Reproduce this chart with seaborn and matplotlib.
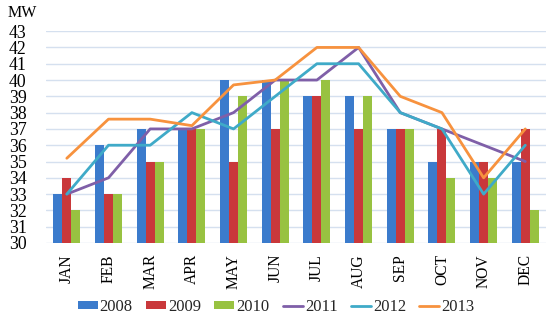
import matplotlib
matplotlib.use("Agg")
import matplotlib.pyplot as plt
import seaborn as sns
import pandas as pd
from matplotlib.lines import Line2D
from matplotlib.patches import Patch

months = ["JAN", "FEB", "MAR", "APR", "MAY", "JUN", "JUL", "AUG", "SEP", "OCT", "NOV", "DEC"]
bar_years = ["2008", "2009", "2010"]
line_years = ["2011", "2012", "2013"]

v2008 = [33, 36, 37, 37, 40, 40, 39, 39, 37, 35, 35, 35]
v2009 = [34, 33, 35, 37, 35, 37, 39, 37, 37, 37, 35, 37]
v2010 = [32, 33, 35, 37, 39, 40, 40, 39, 37, 34, 34, 32]
v2011 = [33, 34, 37, 37, 38, 40, 40, 42, 38, 37, 36, 35]
v2012 = [33, 36, 36, 38, 37, 39, 41, 41, 38, 37, 33, 36]
v2013 = [35.2, 37.6, 37.6, 37.2, 39.7, 40, 42, 42, 39, 38, 34, 37]

bar_colors = ["#3B7BCC", "#C9383B", "#98C241"]
line_colors = ["#7F5FA8", "#3FAAC8", "#F7923E"]

bar_vals = {"2008": v2008, "2009": v2009, "2010": v2010}
line_vals = {"2011": v2011, "2012": v2012, "2013": v2013}

df_bar = pd.DataFrame([(m, y, v) for y in bar_years for m, v in zip(months, bar_vals[y])],
                      columns=["month", "year", "value"])
df_line = pd.DataFrame([(m, y, v) for y in line_years for m, v in zip(months, line_vals[y])],
                       columns=["month", "year", "value"])

sns.set_theme(style="white")
plt.rcParams["font.family"] = ["Liberation Serif", "DejaVu Serif"]

fig = plt.figure(figsize=(5.5, 3.21), dpi=100)
ax = fig.add_axes([0.0836, 0.243, 0.9094, 0.66])

sns.barplot(data=df_bar, x="month", y="value", hue="year", order=months,
            hue_order=bar_years, palette=bar_colors, width=0.65, gap=0,
            saturation=1, ax=ax, legend=False, zorder=2, linewidth=0, edgecolor="none")
sns.lineplot(data=df_line, x="month", y="value", hue="year", hue_order=line_years,
             palette=line_colors, linewidth=2.0, sort=False, ax=ax, legend=False, zorder=3)

ax.set_ylim(30, 43)
ax.set_xlim(-0.5, len(months) - 0.5)
ax.set_yticks(range(30, 44))
ax.yaxis.grid(True, color="#D5E0EF", linewidth=1.0, zorder=0)
ax.set_axisbelow(True)
for s in ax.spines.values():
    s.set_visible(False)
ax.set_xlabel("")
ax.set_ylabel("")
ax.tick_params(axis="y", length=0, pad=14, labelsize=12.8, labelcolor="#000000")
ax.tick_params(axis="x", length=0, pad=8, labelsize=11.2, labelcolor="#000000")
for lab in ax.get_xticklabels():
    lab.set_rotation(90)

fig.text(0.013, 0.96, "MW", fontsize=11.5, ha="left", va="center", color="#000000")

handles = [Patch(facecolor=c, edgecolor="none") for c in bar_colors] + \
          [Line2D([0], [0], color=c, linewidth=2.0) for c in line_colors]
labels = bar_years + line_years
fig.legend(handles, labels, loc="center", bbox_to_anchor=(0.502, 0.045), ncol=6,
           frameon=False, fontsize=12, handlelength=1.2, handleheight=0.35,
           handletextpad=0.12, columnspacing=0.8, borderaxespad=0)

fig.savefig("out.png", dpi=100)
